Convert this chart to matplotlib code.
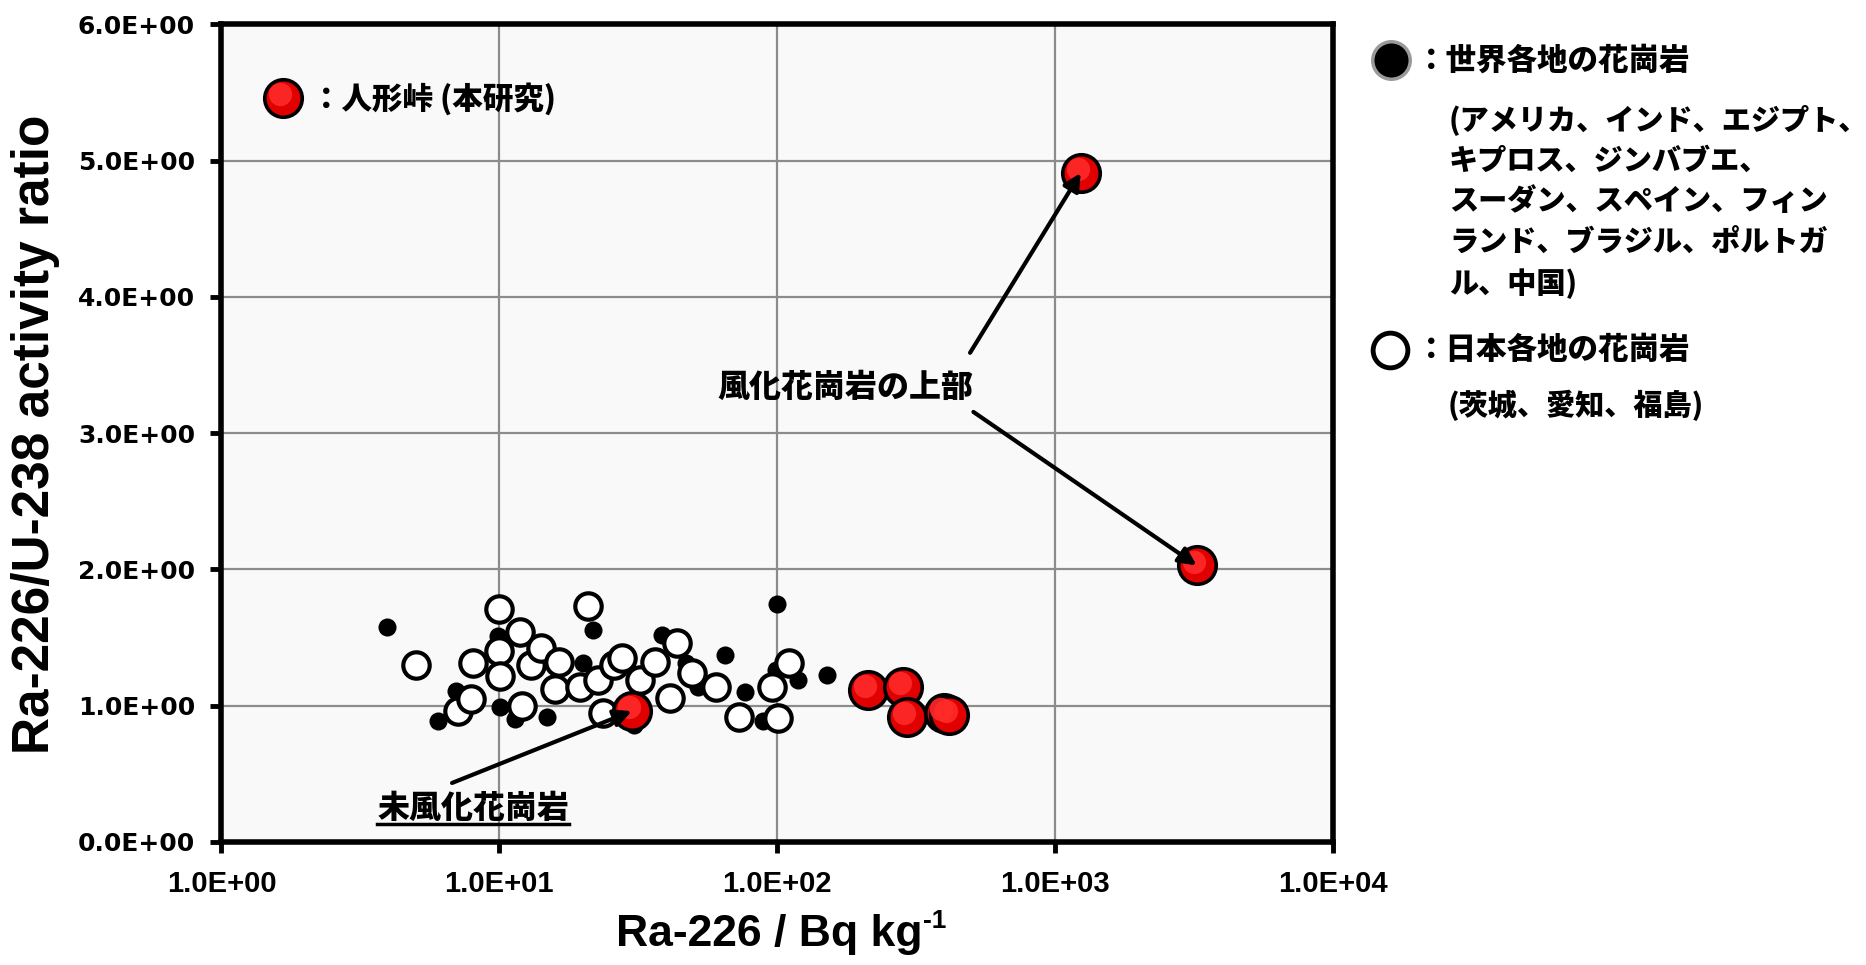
import matplotlib
matplotlib.use('Agg')
import matplotlib.pyplot as plt
from matplotlib.lines import Line2D
from matplotlib.transforms import offset_copy

# ---------------- data ----------------
x_ticks = [1, 10, 100, 1000, 10000]
x_tick_labels = ['1.0E+00', '1.0E+01', '1.0E+02', '1.0E+03', '1.0E+04']
y_ticks = [0, 1, 2, 3, 4, 5, 6]
y_tick_labels = ['0.0E+00', '1.0E+00', '2.0E+00', '3.0E+00', '4.0E+00', '5.0E+00', '6.0E+00']

# World granites (black dots)
world_x = [3.95, 6.0, 7.0, 10.1, 11.4, 14.8, 9.9, 21.8, 38.5, 30.5, 20.0, 47.0,
           52.0, 65.0, 76.7, 89.3, 99.0, 100.2, 119.0, 151.0]
world_y = [1.58, 0.89, 1.11, 0.99, 0.90, 0.92, 1.51, 1.555, 1.52, 0.86, 1.31, 1.31,
           1.14, 1.37, 1.10, 0.89, 1.26, 1.75, 1.19, 1.225]

# Japanese granites (white circles)
japan_x = [5.03, 7.1, 7.9, 8.07, 9.94, 10.0, 10.1, 11.9, 12.1, 13.0, 14.1, 15.9,
           16.4, 19.6, 20.9, 22.7, 23.6, 25.8, 27.7, 32.0, 36.2, 41.2, 43.7, 49.5,
           60.5, 73.0, 96.0, 100.8, 110.0]
japan_y = [1.30, 0.96, 1.05, 1.31, 1.71, 1.40, 1.22, 1.54, 1.00, 1.30, 1.42, 1.125,
           1.32, 1.14, 1.73, 1.19, 0.945, 1.30, 1.35, 1.19, 1.32, 1.06, 1.46, 1.24,
           1.14, 0.92, 1.14, 0.91, 1.31]

# Ningyo-toge (this study, red)
red_x = [1239, 3236, 29.97, 212.8, 283, 294, 398, 415]
red_y = [4.91, 2.03, 0.96, 1.115, 1.14, 0.92, 0.945, 0.935]

CJK = ['Noto Sans CJK JP', 'DejaVu Sans']
CJK_W = 'heavy'

# ---------------- figure ----------------
fig = plt.figure(figsize=(18.66, 9.65), dpi=100)
ax = fig.add_axes([0.1187, 0.1275, 0.5955, 0.8472])
ax.set_xscale('log')
ax.set_xlim(1, 1e4)
ax.set_ylim(0, 6)
ax.set_facecolor('#f9f9f9')

ax.set_xticks(x_ticks)
ax.set_xticklabels(x_tick_labels, fontfamily='Liberation Sans', fontweight='bold', fontsize=21)
ax.xaxis.set_minor_locator(matplotlib.ticker.NullLocator())
ax.set_yticks(y_ticks)
ax.set_yticklabels(y_tick_labels, fontfamily='DejaVu Sans', fontweight='bold', fontsize=18)
ax.tick_params(axis='both', direction='out', length=8, width=3.5, color='black')
ax.tick_params(axis='x', pad=12)
ax.tick_params(axis='y', pad=11)
ax.grid(True, which='major', color='#8c8c8c', lw=1.6)
ax.set_axisbelow(True)
for s in ax.spines.values():
    s.set_linewidth(4)
    s.set_color('black')


def red_sphere(axis, xs, ys, ms, transform=None, **kw):
    t = transform if transform is not None else axis.transData
    axis.plot(xs, ys, 'o', ms=ms, mfc='#e00000', mec='black', mew=2.6,
              transform=t, **kw)
    hl = offset_copy(t, fig=axis.figure, x=-ms * 0.08, y=ms * 0.1, units='points')
    z = kw.pop('zorder', 5)
    axis.plot(xs, ys, 'o', ms=ms * 0.62, mfc='#ff2a2a', mec='none', alpha=0.9,
              transform=hl, zorder=z + 0.1, **kw)


# points
ax.plot(world_x, world_y, 'o', ms=13, mfc='black', mec='black', mew=0, zorder=3)
ax.plot(japan_x, japan_y, 'o', ms=19, mfc='white', mec='black', mew=3, zorder=4)
red_sphere(ax, red_x, red_y, 27, zorder=5)

# annotations
arrow_kw = dict(arrowstyle='-|>', lw=3, color='black', mutation_scale=26,
                shrinkA=0, shrinkB=0)
ax.annotate('', xy=(red_x[0], red_y[0]), xytext=(495, 3.59), arrowprops=arrow_kw, zorder=6)
ax.annotate('', xy=(red_x[1], red_y[1]), xytext=(509, 3.156), arrowprops=arrow_kw, zorder=6)
ax.annotate('', xy=(red_x[2], red_y[2]), xytext=(6.76, 0.433), arrowprops=arrow_kw, zorder=6)
ax.text(175.7, 3.34, '風化花崗岩の上部', family=CJK, fontweight=CJK_W, fontsize=23,
        ha='center', va='center', zorder=7)
t_unw = ax.text(8.05, 0.25, '未風化花崗岩', family=CJK, fontweight=CJK_W, fontsize=23,
                ha='center', va='center', zorder=7)

# in-axes legend (red)
red_sphere(ax, [0.0552], [0.9097], 27, transform=ax.transAxes, clip_on=False, zorder=6)
ax.text(0.0806, 0.9097, '：人形峠 (本研究)', family=CJK, fontweight=CJK_W, fontsize=22,
        ha='left', va='center', transform=ax.transAxes, zorder=7)

# axis labels
fig.text(36 / 1866, 1 - 434 / 965, 'Ra-226/U-238 activity ratio', rotation=90,
         family='Liberation Sans', fontweight='bold', fontsize=37, ha='center', va='center')
t_xl = fig.text(0.4120, 0.0197, 'Ra-226 / Bq kg', family='Liberation Sans',
                fontweight='bold', fontsize=32, ha='center', va='baseline')

# right-side legend
fig.add_artist(Line2D([0.7454], [0.9378], marker='o', ms=27, mfc='black', mec='#9a9a9a',
                      mew=2.5, ls='none', transform=fig.transFigure))
fig.text(1416 / 1866, 0.9378, '：世界各地の花崗岩', family=CJK, fontweight=CJK_W,
         fontsize=22, ha='left', va='center')
world_lines = ['(アメリカ、インド、エジプト、', 'キプロス、ジンバブエ、',
               'スーダン、スペイン、フィン', 'ランド、ブラジル、ポルトガ', 'ル、中国)']
for i, line in enumerate(world_lines):
    fig.text(1449 / 1866, 1 - (120 + 40.8 * i) / 965, line, family=CJK, fontweight=CJK_W,
             fontsize=21, ha='left', va='center')

fig.add_artist(Line2D([0.7449], [1 - 350 / 965], marker='o', ms=25, mfc='white', mec='black',
                      mew=3.5, ls='none', transform=fig.transFigure))
fig.text(1416 / 1866, 1 - 350 / 965, '：日本各地の花崗岩', family=CJK, fontweight=CJK_W,
         fontsize=22, ha='left', va='center')
fig.text(1448 / 1866, 1 - 405 / 965, '(茨城、愛知、福島)', family=CJK, fontweight=CJK_W,
         fontsize=21, ha='left', va='center')

# underline for 未風化花崗岩 and superscript for x label
fig.canvas.draw()
rend = fig.canvas.get_renderer()
bb = t_unw.get_window_extent(rend)
fig.add_artist(Line2D([bb.x0, bb.x1], [bb.y0 + 1, bb.y0 + 1], color='black', lw=2.5,
                      transform=None))
bbx = t_xl.get_window_extent(rend)
W, H = fig.bbox.width, fig.bbox.height
fig.text((bbx.x1 + 1) / W, 0.0197 + 18 / H, '-1', family='Liberation Sans',
         fontweight='bold', fontsize=19, ha='left', va='baseline')

fig.savefig('out.png', dpi=100, facecolor='white')
